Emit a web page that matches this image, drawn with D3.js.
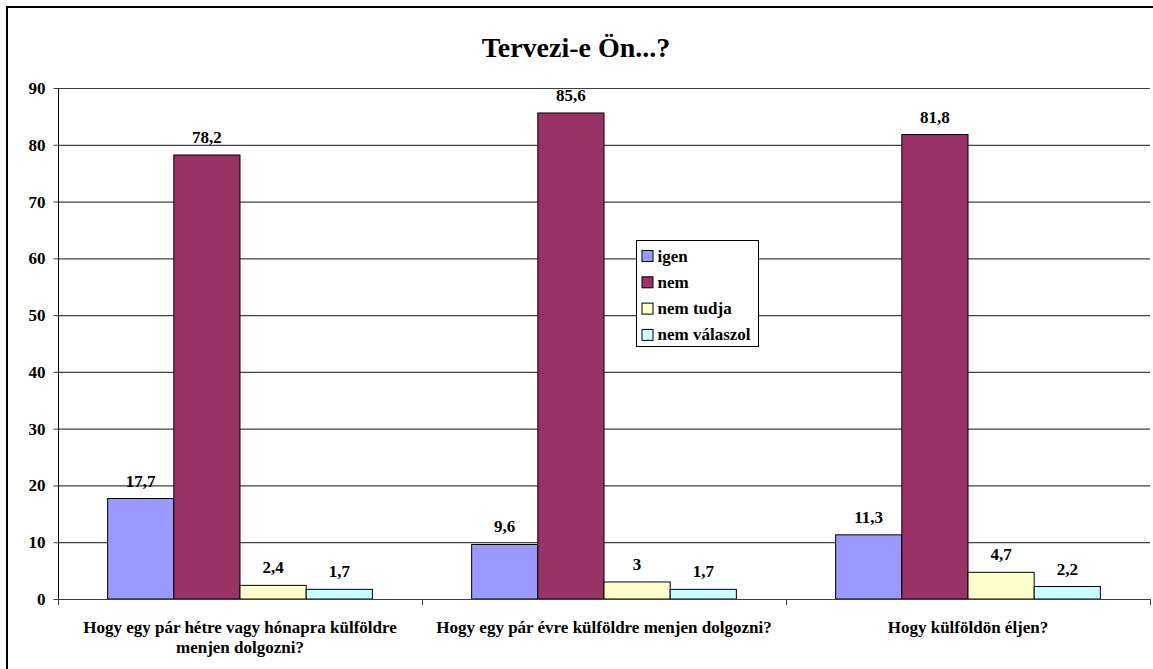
<!DOCTYPE html>
<html><head><meta charset="utf-8">
<script src="https://cdn.jsdelivr.net/npm/d3@7"></script>
<style>body{margin:0;background:#fff}svg, svg text{font-family:"Liberation Serif","Times New Roman",serif !important;font-weight:bold}</style>
</head><body><svg id="c" width="1153" height="669"></svg>
<script>
const categories = [["Hogy egy pár hétre vagy hónapra külföldre","menjen dolgozni?"],["Hogy egy pár évre külföldre menjen dolgozni?"],["Hogy külföldön éljen?"]];
const series = ["igen","nem","nem tudja","nem válaszol"];
const igen = [17.7, 9.6, 11.3];
const nem = [78.2, 85.6, 81.8];
const nemTudja = [2.4, 3, 4.7];
const nemValaszol = [1.7, 1.7, 2.2];
const colors = ["#9999FF","#993366","#FFFFCC","#CCFFFF"];
const yTicks = [0,10,20,30,40,50,60,70,80,90];
const values = [igen, nem, nemTudja, nemValaszol];

const svg = d3.select("#c");
const L=58, R=1150, T=88, B=599;
svg.append("rect").attr("x",7).attr("y",7).attr("width",1160).attr("height",700).attr("fill","none").attr("stroke","#000").attr("stroke-width",2);

svg.append("text").attr("x",576).attr("y",57).attr("text-anchor","middle").attr("font-size",28).text("Tervezi-e Ön...?");

const y = d3.scaleLinear().domain([0,90]).range([B,T]);
const x0 = d3.scaleBand().domain(d3.range(3)).range([L,R]).paddingInner(0).paddingOuter(0);
const x1 = d3.scaleBand().domain(d3.range(4)).range([x0.bandwidth()*0.75/5.5, x0.bandwidth()-x0.bandwidth()*0.75/5.5]);

svg.append("g").selectAll("line").data(yTicks.filter(d=>d>0)).join("line")
  .attr("x1",L).attr("x2",R).attr("y1",d=>y(d)+0.5).attr("y2",d=>y(d)+0.5).attr("stroke","#404040").attr("stroke-width",1.2);

const ya = svg.append("g").attr("transform",`translate(${L+0.5},0)`).call(d3.axisLeft(y).tickValues(yTicks).tickSize(5).tickPadding(8).tickFormat(d3.format("d")));
ya.attr("font-family",null).attr("font-size",null);
ya.selectAll("text").attr("font-size",17).attr("fill","#000");
ya.select(".domain").attr("stroke","#000").attr("d",`M0,${T}V${B}`);
ya.selectAll(".tick line").attr("stroke","#404040");

const g = svg.append("g");
categories.forEach((c,ci)=>{
  series.forEach((s,si)=>{
    const v = values[si][ci];
    const bx = x0(ci)+x1(si);
    g.append("rect").attr("x",bx).attr("y",y(v)).attr("width",x1.bandwidth()).attr("height",y(0)-y(v))
      .attr("fill",colors[si]).attr("stroke","#000").attr("stroke-width",1);
    g.append("text").attr("x",bx+x1.bandwidth()/2).attr("y",y(v)-12).attr("text-anchor","middle").attr("font-size",17)
      .text(String(v).replace(".",","));
  });
});

const xa = svg.append("g");
xa.append("line").attr("x1",L).attr("x2",R).attr("y1",B+0.5).attr("y2",B+0.5).attr("stroke","#404040").attr("stroke-width",1.2);
[0,1,2,3].forEach(i=>{
  const xx = i<3? x0(i) : R;
  xa.append("line").attr("x1",xx+0.5).attr("x2",xx+0.5).attr("y1",B).attr("y2",B+6).attr("stroke","#404040");
});
categories.forEach((lines,ci)=>{
  const t = xa.append("text").attr("text-anchor","middle").attr("font-size",17);
  lines.forEach((ln,li)=>t.append("tspan").attr("x",x0(ci)+x0.bandwidth()/2).attr("y",633+li*19.5).text(ln));
});

const lg = svg.append("g").attr("transform","translate(636.5,240.5)");
lg.append("rect").attr("width",122).attr("height",106).attr("fill","#fff").attr("stroke","#000").attr("stroke-width",1);
series.forEach((s,i)=>{
  const yy = 15.5 + i*26.3;
  lg.append("rect").attr("x",5.5).attr("y",yy-5.5).attr("width",11).attr("height",11).attr("fill",colors[i]).attr("stroke","#000");
  lg.append("text").attr("x",21).attr("y",yy+5.5).attr("font-size",17).text(s);
});
</script></body></html>
